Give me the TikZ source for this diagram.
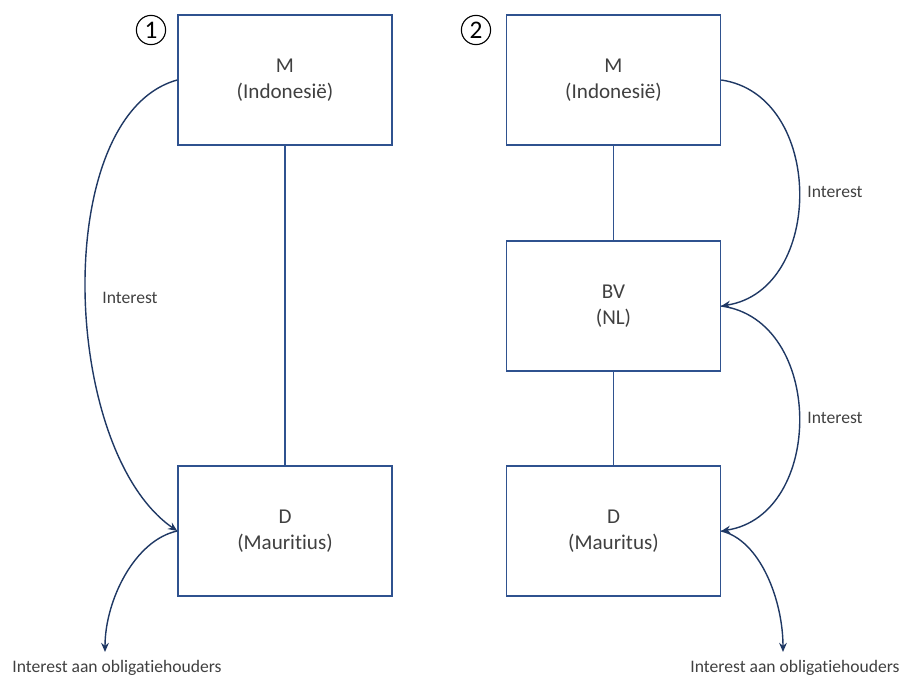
\documentclass[tikz,border=0pt]{standalone}
\usepackage{fontspec}
\setmainfont{Carlito}[Ligatures={NoCommon}]
\usetikzlibrary{arrows.meta}
\begin{document}
\begin{tikzpicture}[x=0.025cm,y=-0.025cm]
	
	% Farben
	\definecolor{kader}{RGB}{47,82,143}
	\definecolor{pijl}{RGB}{31,56,100}
	\definecolor{tekst}{RGB}{64,64,64}
	
	\tikzset{
		entiteit/.style={draw=kader, line width=1pt, fill=white, minimum width=5.35cm, minimum height=3.25cm, inner sep=0pt, align=center, text=tekst, font=\fontsize{15}{18.5}\selectfont},
		nummer/.style={circle, draw=black, line width=0.8pt, minimum size=0.73cm, inner sep=0pt, font=\fontsize{18}{18}\selectfont},
		lijn/.style={draw=kader, line width=0.9pt},
		stroom/.style={draw=pijl, line width=1pt, -{Stealth[length=6.5pt,width=5.5pt]}},
		label/.style={text=tekst, font=\fontsize{12.5}{15}\selectfont, inner sep=1pt}
	}
	
	% Rahmen
	\useasboundingbox (0,0) rectangle (904,677);
	
	% Situation 1
	\node[nummer] (nr1) at (151,30) {1};
	\node[entiteit] (m1) at (285,80) {M\\(Indonesië)};
	\node[entiteit] (d1) at (285,531) {D\\(Mauritius)};
	\draw[lijn] (m1) -- (d1);
	\draw[stroom] (m1.west) .. controls (50,115) and (60,450) .. (d1.west);
	\node[label] (rente1) at (130,298) {Interest};
	\coordinate (obl1) at (105,652);
	\draw[stroom] (d1.west) .. controls (135,540) and (105,600) .. (obl1);
	\node[label] (houders1) at (117,668) {Interest aan obligatiehouders};
	
	% Situation 2
	\node[nummer] (nr2) at (476,30) {2};
	\node[entiteit] (m2) at (613.5,80) {M\\(Indonesië)};
	\node[entiteit] (bv) at (613.5,306) {BV\\(NL)};
	\node[entiteit] (d2) at (613.5,531) {D\\(Mauritus)};
	\draw[lijn] (m2) -- (bv);
	\draw[lijn] (bv) -- (d2);
	\draw[stroom] (m2.east) .. controls (825,95) and (825,290) .. (bv.east);
	\node[label] (rente2) at (835,192) {Interest};
	\draw[stroom] (bv.east) .. controls (825,320) and (825,515) .. (d2.east);
	\node[label] (rente3) at (835,418) {Interest};
	\coordinate (obl2) at (783,652);
	\draw[stroom] (d2.east) .. controls (760,540) and (783,600) .. (obl2);
	\node[label] (houders2) at (795,668) {Interest aan obligatiehouders};
	
\end{tikzpicture}
\end{document}
